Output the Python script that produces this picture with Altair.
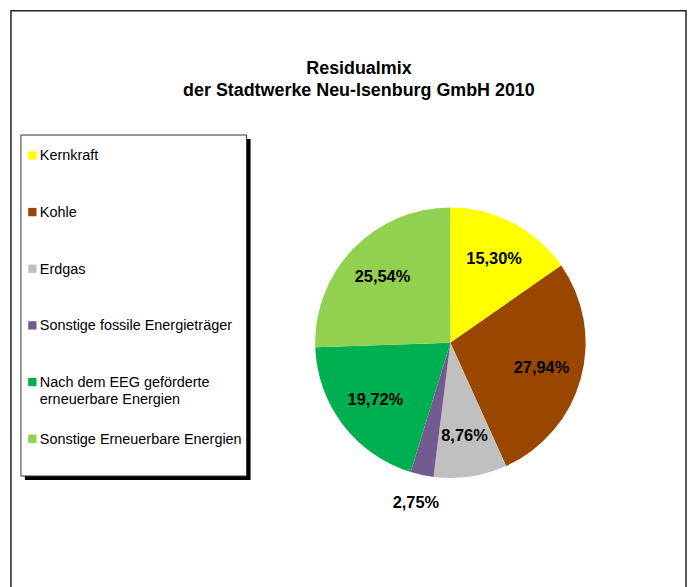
import altair as alt
import pandas as pd

categories = [
    "Kernkraft",
    "Kohle",
    "Erdgas",
    "Sonstige fossile Energieträger",
    "Nach dem EEG geförderte\nerneuerbare Energien",
    "Sonstige Erneuerbare Energien",
]
values = [15.30, 27.94, 8.76, 2.75, 19.72, 25.54]
labels = ["15,30%", "27,94%", "8,76%", "2,75%", "19,72%", "25,54%"]
colors = ["#FFFF00", "#994700", "#C0C0C0", "#735A91", "#00B050", "#92D050"]
title_lines = ["Residualmix", "der Stadtwerke Neu-Isenburg GmbH 2010"]

FONT = "Liberation Sans"

df = pd.DataFrame({"cat": categories, "value": values, "label": labels,
                   "order": list(range(len(categories)))})
one = pd.DataFrame({"t": ["\n".join(title_lines)]})

color = alt.Color("cat:N", scale=alt.Scale(domain=categories, range=colors), legend=None)

CX, CY = 445, 334

# outer frame
frame = alt.Chart(one).mark_rect(fill="white", stroke="#222", strokeWidth=1.5).encode(
    x=alt.value(3), x2=alt.value(682), y=alt.value(0), y2=alt.value(600))

# legend box + shadow
shadow = alt.Chart(one).mark_rect(fill="black").encode(
    x=alt.value(17), x2=alt.value(244), y=alt.value(129), y2=alt.value(472))
legbox = alt.Chart(one).mark_rect(fill="white", stroke="#333", strokeWidth=1).encode(
    x=alt.value(13), x2=alt.value(240), y=alt.value(125), y2=alt.value(468))

leg_y = alt.Y("cat:N", sort=categories,
              scale=alt.Scale(type="point", domain=categories, range=[145.5, 430.5], padding=0),
              axis=None)
squares = alt.Chart(df).mark_square(size=70, opacity=1).encode(
    x=alt.value(24.5), y=leg_y, color=color)
legtext = alt.Chart(df).mark_text(align="left", baseline="alphabetic", dy=5, fontSize=14.5,
                                  lineBreak="\n", lineHeight=17, font=FONT, color="black").encode(
    x=alt.value(32), y=leg_y, text="cat:N")

# pie
pie = alt.Chart(df).mark_arc(radius=136).encode(
    theta=alt.Theta("value:Q", stack=True),
    order=alt.Order("order:Q"),
    color=color,
    x=alt.value(CX), y=alt.value(CY))

pie_labels = alt.Chart(df).transform_window(
    cum="sum(value)", sort=[alt.SortField("order")], frame=[None, 0]
).transform_joinaggregate(
    total="sum(value)"
).transform_calculate(
    mid="2 * PI * (datum.cum - datum.value / 2) / datum.total",
    r="datum.value < 5 ? 165 : 95"
).mark_text(font=FONT, fontSize=16.5, fontWeight="bold", color="black").encode(
    theta=alt.Theta("mid:Q", scale=None, stack=None),
    radius=alt.Radius("r:Q", scale=None),
    text="label:N",
    x=alt.value(CX), y=alt.value(CY))

title = alt.Chart(one).mark_text(font=FONT, fontSize=18, fontWeight="bold", align="center",
                                 baseline="alphabetic", lineBreak="\n", lineHeight=21.7,
                                 color="black").encode(
    x=alt.value(353), y=alt.value(64), text="t:N")

chart = alt.layer(frame, shadow, legbox, squares, legtext, pie, pie_labels, title).properties(
    width=682, height=590, padding=0
).configure_view(stroke=None)

chart.save("out.html", embed_options={"renderer": "svg", "actions": False})
